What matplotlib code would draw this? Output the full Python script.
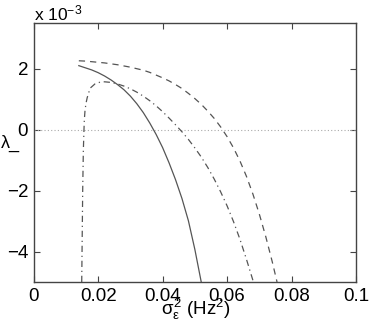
import matplotlib
matplotlib.use("Agg")
import matplotlib.pyplot as plt

plt.rcParams['font.family'] = ['Liberation Sans', 'DejaVu Sans']
plt.rcParams['mathtext.fontset'] = 'custom'
plt.rcParams['mathtext.rm'] = 'Liberation Sans'
plt.rcParams['mathtext.it'] = 'Liberation Sans'
plt.rcParams['mathtext.bf'] = 'Liberation Sans:bold'

# eigenvalue lambda (units of 1e-3) vs sigma_eps^2 (Hz^2)
solid_x = [0.014, 0.016, 0.018, 0.020, 0.022, 0.024, 0.026, 0.028, 0.030, 0.032,
           0.034, 0.036, 0.038, 0.040, 0.042, 0.044, 0.046, 0.048, 0.050, 0.052]
solid_y = [2.10, 2.03, 1.96, 1.87, 1.76, 1.63, 1.48, 1.31, 1.10, 0.85,
           0.56, 0.22, -0.16, -0.59, -1.09, -1.64, -2.26, -2.99, -3.93, -5.01]

dashed_x = [0.014, 0.016, 0.018, 0.020, 0.022, 0.024, 0.026, 0.028, 0.030, 0.032,
            0.034, 0.036, 0.038, 0.040, 0.042, 0.044, 0.046, 0.048, 0.050, 0.052,
            0.054, 0.056, 0.058, 0.060, 0.062, 0.064, 0.066, 0.068, 0.070, 0.072,
            0.074, 0.0755]
dashed_y = [2.26, 2.25, 2.23, 2.21, 2.19, 2.16, 2.13, 2.09, 2.05, 2.00,
            1.95, 1.88, 1.79, 1.70, 1.60, 1.48, 1.35, 1.19, 1.02, 0.83,
            0.61, 0.37, 0.09, -0.23, -0.60, -1.03, -1.53, -2.11, -2.77, -3.51,
            -4.33, -5.00]

dashdot_x = [0.0149, 0.0152, 0.0154, 0.0156, 0.0157, 0.0159, 0.0162, 0.0166, 0.0175, 0.0190,
             0.0206, 0.022, 0.024, 0.026, 0.028, 0.030, 0.032, 0.034, 0.036, 0.038,
             0.040, 0.042, 0.044, 0.046, 0.048, 0.050, 0.052, 0.054, 0.056, 0.058,
             0.060, 0.062, 0.064, 0.066, 0.068, 0.0682]
dashdot_y = [-5.00, -2.00, -0.70, 0.00, 0.30, 0.60, 0.85, 1.05, 1.36, 1.50,
             1.56, 1.57, 1.55, 1.50, 1.43, 1.34, 1.23, 1.10, 0.95, 0.78,
             0.59, 0.38, 0.16, -0.07, -0.32, -0.60, -0.90, -1.24, -1.62, -2.04,
             -2.50, -3.02, -3.60, -4.25, -4.94, -5.02]

x_ticks = [0, 0.02, 0.04, 0.06, 0.08, 0.1]
x_ticklabels = ['0', '0.02', '0.04', '0.06', '0.08', '0.1']
y_ticks = [-4, -2, 0, 2]
y_ticklabels = ['\u22124', '\u22122', '0', '2']

fig = plt.figure(figsize=(3.71, 3.27), dpi=100)
ax = fig.add_axes([33.7/371, 45/327, (356-33.7)/371, (282-23)/327])

lc = '#555555'
ax.axhline(0, color='#aaaaaa', lw=0.8, linestyle=(0, (1, 2)))
ax.plot(solid_x, solid_y, color=lc, lw=0.9, linestyle='-')
ax.plot(dashed_x, dashed_y, color=lc, lw=0.9, linestyle=(0, (5, 4)))
ax.plot(dashdot_x, dashdot_y, color=lc, lw=0.9, linestyle=(0, (5, 3, 1, 3)))

ax.set_xlim(0, 0.1)
ax.set_ylim(-5, 3.5)
ax.set_xticks(x_ticks)
ax.set_xticklabels(x_ticklabels)
ax.set_yticks(y_ticks)
ax.set_yticklabels(y_ticklabels)
ax.tick_params(direction='in', top=True, right=True, length=4, width=0.8,
               color='#444444', labelsize=13.5, pad=4)
for s in ax.spines.values():
    s.set_color('#444444')
    s.set_linewidth(1.0)

fig.text(34/371, 1 - 13/327, 'x 10$^{\\mathdefault{-3}}$', fontsize=12.5, ha='left', va='center')
fig.text(1/371, 1 - 143/327, '\u03bb_', fontsize=13, ha='left', va='center')
fig.text(196/371, 1 - 309/327, r'$\sigma_{\varepsilon}^{2}$ (Hz$^{2}$)', fontsize=13.5,
         ha='center', va='center')

fig.savefig('out.png', dpi=100)
